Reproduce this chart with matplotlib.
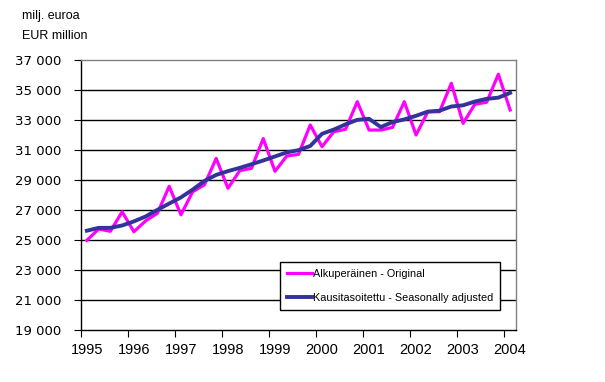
import numpy as np
import matplotlib
matplotlib.use('Agg')
import matplotlib.pyplot as plt

plt.rcParams['font.family'] = ['Liberation Sans', 'DejaVu Sans']

# quarterly, 1995Q1 .. 2004Q1
years = [str(y) for y in range(1995, 2005)]
original = [25000, 25750, 25600, 26900,
            25570, 26300, 26800, 28600,
            26700, 28240, 28700, 30460,
            28470, 29640, 29800, 31780,
            29600, 30620, 30730, 32690,
            31240, 32240, 32400, 34240,
            32350, 32350, 32530, 34240,
            32020, 33570, 33570, 35470,
            32800, 34070, 34200, 36070,
            33690]
adjusted = [25640, 25830, 25830, 25990,
            26260, 26590, 27030, 27450,
            27860, 28380, 28960, 29360,
            29610, 29830, 30070, 30320,
            30590, 30860, 31010, 31290,
            32100, 32380, 32730, 33030,
            33100, 32550, 32880, 33060,
            33300, 33580, 33640, 33920,
            34000, 34250, 34430, 34510,
            34830]
yticks = list(range(19000, 37001, 2000))

fig = plt.figure(figsize=(6.05, 3.82), dpi=100)
ax = fig.add_axes([81 / 605, 1 - 330.3 / 382, 435 / 605, 270 / 382])

x = np.arange(len(original))
ax.plot(x, original, color='#FF00FF', lw=2.3, label='Alkuperäinen - Original', zorder=3)
ax.plot(x, adjusted, color='#333399', lw=2.8, label='Kausitasoitettu - Seasonally adjusted', zorder=4)

ax.set_xlim(-0.5, len(original) - 0.5)
ax.set_ylim(19000, 37000)

ax.set_yticks(yticks)
ax.set_yticklabels(['{:,}'.format(v).replace(',', ' ') for v in yticks],
                   fontsize=9.5, family='DejaVu Sans')
for v in yticks[1:-1]:
    ax.axhline(v, color='black', lw=1, zorder=1)

ax.set_xticks(np.arange(-0.5, len(original) - 1, 4))
ax.set_xticklabels([])
ax.set_xticks(np.arange(0, len(original), 4), minor=True)
ax.set_xticklabels(years, minor=True, fontsize=10.5)
ax.tick_params(axis='x', which='minor', length=0, pad=9)
ax.tick_params(axis='x', which='major', length=5, direction='out', color='black')
ax.tick_params(axis='y', length=5, direction='out', color='black', pad=9)

ax.spines['left'].set_color('black')
ax.spines['bottom'].set_color('black')
ax.spines['top'].set_color('#808080')
ax.spines['right'].set_color('#808080')
for s in ax.spines.values():
    s.set_linewidth(1)

leg = ax.legend(loc='upper left', bbox_to_anchor=(280 / 605, 1 - 262 / 382),
                bbox_transform=fig.transFigure, fontsize=7.8, frameon=True,
                fancybox=False, framealpha=1, edgecolor='black',
                handlelength=2.3, handletextpad=0.1, labelspacing=1.3,
                borderpad=0.65, borderaxespad=0)
leg.get_frame().set_linewidth(1)

fig.text(22 / 605, 1 - 16 / 382, 'milj. euroa', fontsize=9, va='center', ha='left')
fig.text(22 / 605, 1 - 36 / 382, 'EUR million', fontsize=9, va='center', ha='left')

fig.savefig('out.png', dpi=100)
